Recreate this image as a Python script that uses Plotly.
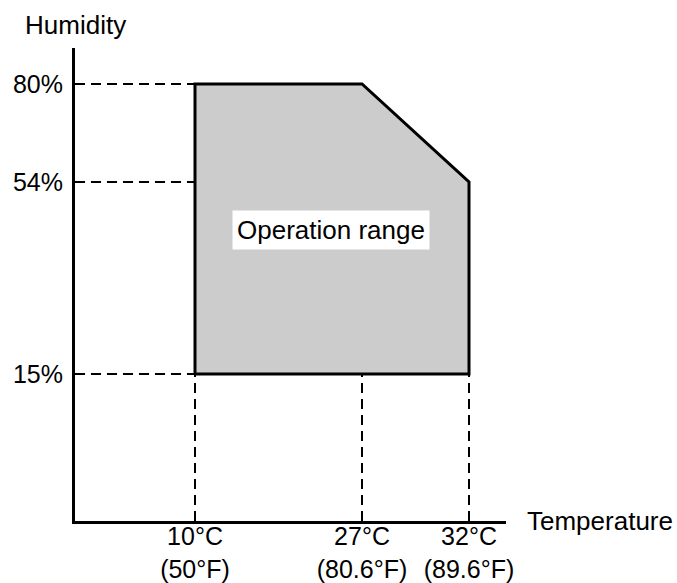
import plotly.graph_objects as go

# --- data ---
temps_c = [10, 27, 32]
temps_f = [50, 80.6, 89.6]
humidity = [15, 54, 80]
# operating envelope as (temperature °C, humidity %) vertices
env_temp = [10, 10, 27, 32, 32, 10]
env_hum = [15, 80, 80, 54, 15, 15]
range_label = "Operation range"

# --- schematic (not-to-scale) axis positions for each labelled value ---
x_pos = {10: 120, 27: 287, 32: 394}
y_pos = {15: 147, 54: 339, 80: 437}

FONT = "Liberation Sans, Arial, sans-serif"

W_FIG, H_FIG = 677, 583
L, T = 75, 48
PW, PH = 431, 473
R, B = W_FIG - L - PW, H_FIG - T - PH


def px(xp):
    return (xp - L) / PW


def py(yp):
    return 1 - (yp - T) / PH


fig = go.Figure()

# envelope
fig.add_trace(go.Scatter(
    x=[x_pos[t] for t in env_temp], y=[y_pos[h] for h in env_hum],
    mode="lines", fill="toself", fillcolor="#cccccc",
    line=dict(color="black", width=3), hoverinfo="skip", showlegend=False))

# dashed guide lines
for h in humidity:
    fig.add_trace(go.Scatter(x=[0, x_pos[temps_c[0]]], y=[y_pos[h], y_pos[h]],
                             mode="lines", line=dict(color="black", width=2, dash="10px,6px"),
                             hoverinfo="skip", showlegend=False))
for t in temps_c:
    fig.add_trace(go.Scatter(x=[x_pos[t], x_pos[t]], y=[0, y_pos[humidity[0]]],
                             mode="lines", line=dict(color="black", width=2, dash="10px,6px"),
                             hoverinfo="skip", showlegend=False))

fig.add_annotation(x=256, y=291, xref="x", yref="y", text=range_label, showarrow=False,
                   bgcolor="white", borderpad=4, font=dict(size=26, color="black", family=FONT))

fig.add_annotation(x=px(23), y=py(25), xref="paper", yref="paper",
                   xanchor="left", yanchor="middle", text="Humidity", showarrow=False,
                   font=dict(size=26, color="black", family=FONT))
fig.add_annotation(x=px(525), y=py(521), xref="paper", yref="paper",
                   xanchor="left", yanchor="middle", text="Temperature", showarrow=False,
                   font=dict(size=26, color="black", family=FONT))

fig.update_layout(
    width=W_FIG, height=H_FIG,
    margin=dict(l=L, r=R, t=T, b=B, autoexpand=False),
    paper_bgcolor="white", plot_bgcolor="white",
    font=dict(family=FONT, size=25, color="black"),
    xaxis=dict(range=[0, 431], showgrid=False, zeroline=False, showline=True,
               linecolor="black", linewidth=3, ticks="", automargin=False,
               tickvals=[x_pos[t] for t in temps_c],
               ticktext=[f"{c}°C<br>({f:g}°F)" for c, f in zip(temps_c, temps_f)],
               tickfont=dict(size=25), ticklabelstandoff=-9, fixedrange=True),
    yaxis=dict(range=[0, 473], showgrid=False, zeroline=False, showline=True,
               linecolor="black", linewidth=3, ticks="", automargin=False,
               tickvals=[y_pos[h] for h in humidity],
               ticktext=[f"{h}%" for h in humidity],
               tickfont=dict(size=25), ticklabelstandoff=4, fixedrange=True),
)

fig.write_html("out.html", config={"displayModeBar": False},
               post_script="document.body.style.margin='0px';")
